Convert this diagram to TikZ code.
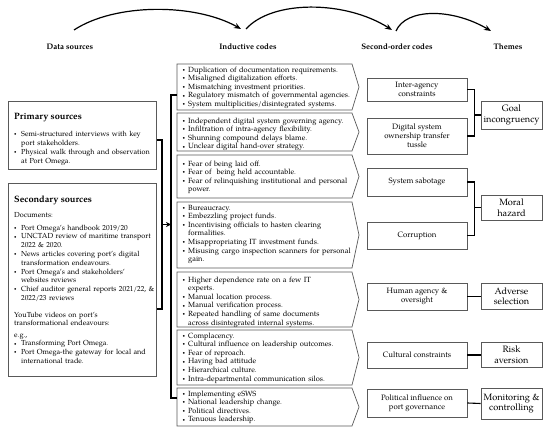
\documentclass[tikz,border=0pt]{standalone}
\usepackage{fontspec}
\setmainfont{TeX Gyre Pagella}
\usetikzlibrary{arrows.meta}
\newcommand\bu{\makebox[5.5pt][l]{\raisebox{0.25ex}{\scalebox{0.6}{\textbullet}}}}
\newcommand\bs{\makebox[7pt][l]{\raisebox{0.25ex}{\scalebox{0.6}{\textbullet}}}}
\newcommand\fs{\rule{0pt}{5.5pt}}
\newcommand\ci{\hspace*{5.5pt}}
\newcommand\si{\hspace*{7pt}}
\newcommand\ibox[5]{%
  \draw[codebox] (177,#2) -- (352,#2) -- (359,{(#2+#3)/2}) -- (352,#3) -- (177,#3) -- cycle;
  \coordinate (#1w) at (177,{(#2+#3)/2});
  \node[codetext] (#1) at (182.5,{#4-3.5}) {\fs#5};
}
\begin{document}
\begin{tikzpicture}[x=1pt,y=-1pt,
  codebox/.style={draw=black!65, line width=0.7pt},
  srcbox/.style={draw=black!65, line width=0.7pt, inner sep=0pt},
  codetext/.style={anchor=north west, inner sep=0pt, align=left, text width=200pt, font=\fontsize{7.5}{8.6}\selectfont},
  srctext/.style={anchor=north west, inner sep=0pt, align=left, text width=170pt, font=\fontsize{7.3}{8.8}\selectfont},
  sobox/.style={draw=black!65, line width=0.7pt, minimum width=100pt, align=center, font=\fontsize{7.8}{9.2}\selectfont, inner sep=1pt},
  thbox/.style={draw=black!65, line width=0.7pt, minimum width=61pt, align=center, font=\fontsize{9.2}{10.5}\selectfont, inner sep=1pt},
  brk/.style={line width=1.1pt, draw=black},
  arc/.style={line width=1.2pt, -{Stealth[length=7pt,width=5.5pt]}},
  hdr/.style={anchor=base, inner sep=0pt, font=\fontsize{8}{9}\selectfont\bfseries}
]
\useasboundingbox (0,0) rectangle (550,435);

% headers
\node[hdr] (h1) at (70,50) {Data sources};
\node[hdr] (h2) at (248,50) {Inductive codes};
\node[hdr] (h3) at (397,50) {Second-order codes};
\node[hdr] (h4) at (508,50) {Themes};

% arcs
\coordinate (a1s) at (74,30); \coordinate (a1e) at (241,29);
\coordinate (a2s) at (246,29); \coordinate (a2e) at (392,30);
\coordinate (a3s) at (396,31); \coordinate (a3e) at (491,31);
\draw[arc] (a1s) .. controls (115,3) and (195,3) .. (a1e);
\draw[arc] (a2s) .. controls (272,0) and (345,0) .. (a2e);
\draw[arc] (a3s) .. controls (406,8) and (452,8) .. (a3e);

% data sources
\node[srcbox, minimum width=148pt, minimum height=68pt, anchor=north west] (prim) at (8,101) {};
\node[anchor=base west, inner sep=0pt, font=\fontsize{9.2}{11}\selectfont\bfseries] (primt) at (14,120) {Primary sources};
\node[srctext] (primb) at (14,131) {\fs\bs\makebox[131pt][s]{Semi-structured interviews with key}\\
\si port stakeholders.\\
\bs Physical walk through and observation\\
\si at Port Omega.};

\node[srcbox, minimum width=148pt, minimum height=193pt, anchor=north west] (sec) at (8,183) {};
\node[anchor=base west, inner sep=0pt, font=\fontsize{9.2}{11}\selectfont\bfseries] (sect) at (14,203) {Secondary sources};
\node[srctext] (secd) at (14,211.5) {\fs Documents:};
\node[srctext] (secb) at (14,224.5) {\fs\bs Port Omega's handbook 2019/20\\
\bs UNCTAD review of maritime transport\\
\si 2022 \& 2020.\\
\bs News articles covering port's digital\\
\si transformation endeavours.\\
\bs Port Omega's and stakeholders'\\
\si websites reviews\\
\bs Chief auditor general reports 2021/22, \&\\
\si 2022/23 reviews};
\node[srctext] (secy) at (14,311.5) {\fs YouTube videos on port's\\
transformational endeavours:};
\node[srctext] (sece) at (14,331.5) {\fs e.g.,\\
\bs Transforming Port Omega.\\
\bs Port Omega-the gateway for local and\\
\si international trade.};

% inductive codes
\ibox{c1}{64}{110}{70}{\bu Duplication of documentation requirements.\\
\bu Misaligned digitalization efforts.\\
\bu Mismatching investment priorities.\\
\bu Regulatory mismatch of governmental agencies.\\
\bu System multiplicities/disintegrated systems.}
\ibox{c2}{113}{151}{121}{\bu Independent digital system governing agency.\\
\bu Infiltration of intra-agency flexibility.\\
\bu Shunning compound delays blame.\\
\bu Unclear digital hand-over strategy.}
\ibox{c3}{155}{198}{164}{\bu Fear of being laid off.\\
\bu Fear of \ being held accountable.\\
\bu Fear of relinquishing institutional and personal\\
\ci power.}
\ibox{c4}{202}{268}{208}{\bu Bureaucracy.\\
\bu Embezzling project funds.\\
\bu Incentivising officials to hasten clearing\\
\ci formalities.\\
\bu Misappropriating IT investment funds.\\
\bu Misusing cargo inspection scanners for personal\\
\ci gain.}
\ibox{c5}{272}{327}{280}{\bu Higher dependence rate on a few IT\\
\ci experts.\\
\bu Manual location process.\\
\bu Manual verification process.\\
\bu Repeated handling of same documents\\
\ci across disintegrated internal systems.}
\ibox{c6}{330}{385}{336}{\bu Complacency.\\
\bu Cultural influence on leadership outcomes.\\
\bu Fear of reproach.\\
\bu Having bad attitude\\
\bu Hierarchical culture.\\
\bu Intra-departmental communication silos.}
\ibox{c7}{388}{426}{394}{\bu Implementing eSWS\\
\bu National leadership change.\\
\bu Political directives.\\
\bu Tenuous leadership.}

% brackets from sources to codes
\coordinate (sbt) at (162,140); \coordinate (sbb) at (162,309); \coordinate (sbm) at (162,224.5);
\coordinate (ibt) at (171,95); \coordinate (ibb) at (171,398); \coordinate (ibm) at (171,224.5);
\draw[brk] (prim.east |- sbt) -- (sbt) -- (sbb) -- (sec.east |- sbb);
\draw[brk] (c1w |- ibt) -- (ibt) -- (ibb) -- (c7w |- ibb);
\draw[brk, -{Stealth[length=5pt,width=5pt]}] (sbm) -- (ibm);

% second-order codes
\node[sobox, minimum height=23pt] (s1) at (417,89.5) {Inter-agency\\constraints};
\node[sobox, minimum height=36pt] (s2) at (417,136) {Digital system\\ownership transfer\\tussle};
\node[sobox, minimum height=28pt] (s3) at (417,182) {System sabotage};
\node[sobox, minimum height=27pt] (s4) at (417,235.5) {Corruption};
\node[sobox, minimum height=27pt] (s5) at (417,296.5) {Human agency \&\\oversight};
\node[sobox, minimum height=26pt] (s6) at (417,355) {Cultural constraints};
\node[sobox, minimum height=28pt] (s7) at (417,403) {Political influence on\\port governance};

% themes
\node[thbox, minimum height=28pt] (t1) at (511.5,115) {Goal\\incongruency};
\node[thbox, minimum height=25pt] (t2) at (511.5,207.5) {Moral\\hazard};
\node[thbox, minimum height=26pt] (t3) at (511.5,296.5) {Adverse\\selection};
\node[thbox, minimum height=25pt] (t4) at (511.5,355) {Risk\\aversion};
\node[thbox, minimum height=31pt] (t5) at (511.5,403.5) {Monitoring \&\\controlling};

% links second-order -> themes
\draw[brk] (s1.east) -- ++(7,0) |- (s2.east);
\draw[brk] (t1.west) -- ++(-7,0);
\draw[brk] (s3.east) -- ++(7,0) |- (s4.east);
\draw[brk] (t2.west) -- ++(-7,0);
\draw[brk] (s5.east) -- (t3.west);
\draw[brk] (s6.east) -- (t4.west);
\draw[brk] (s7.east) -- (t5.west);
\end{tikzpicture}
\end{document}
